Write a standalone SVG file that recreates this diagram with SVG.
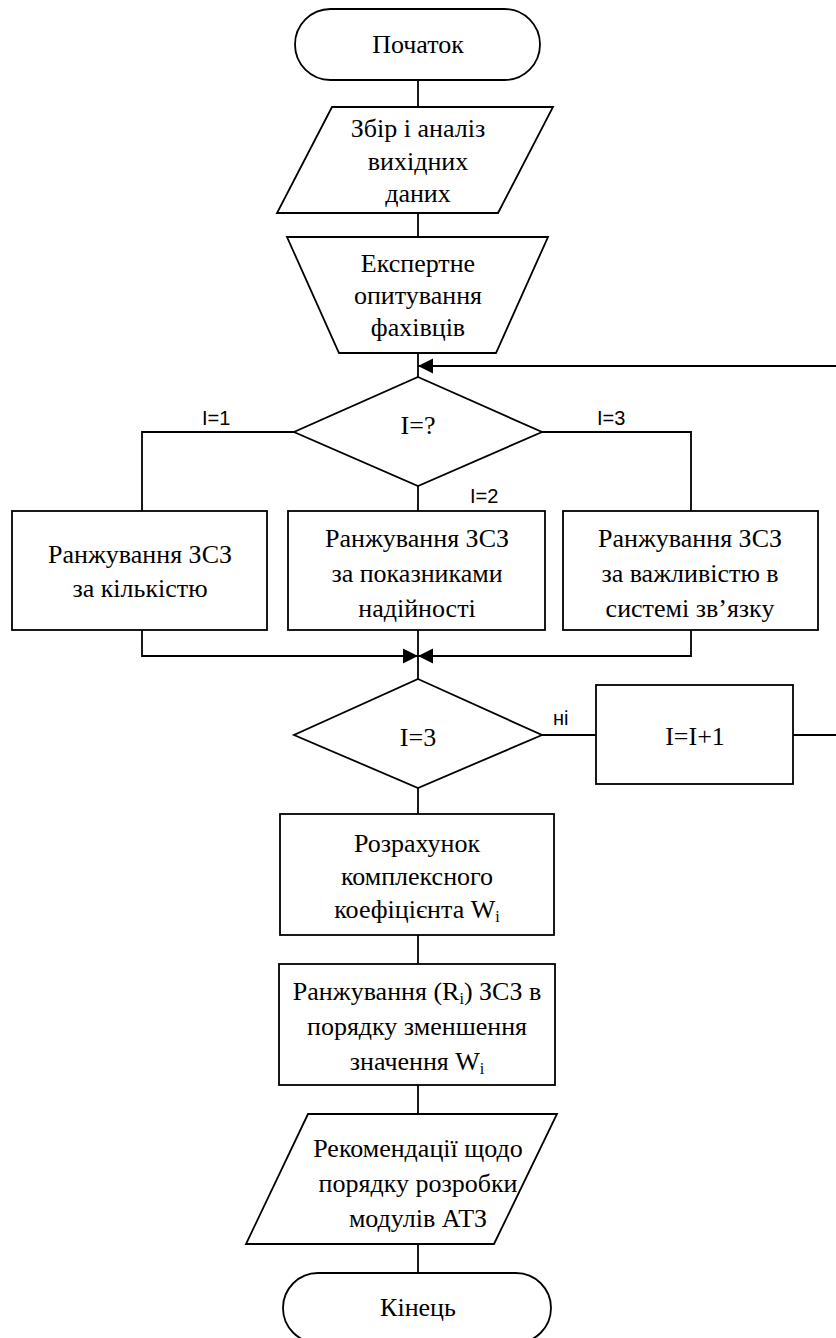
<svg xmlns="http://www.w3.org/2000/svg" width="836" height="1338" viewBox="0 0 836 1338" font-family="Liberation Serif, Times New Roman, serif">
<style>
.s{fill:#fff;stroke:#000;stroke-width:1.8}
.c{fill:none;stroke:#000;stroke-width:1.8}
.t{font-family:'Liberation Serif',serif;font-size:26px;fill:#000;text-anchor:middle}
.l{font-family:'Liberation Sans',sans-serif;font-size:20px;fill:#000}
.sub{font-size:16px}
</style>
<defs>
<marker id="ah" markerWidth="16" markerHeight="16" viewBox="0 0 16 16" refX="15" refY="8" orient="auto" markerUnits="userSpaceOnUse">
<path d="M0,0.5 L15,8 L0,15.5 Z" fill="#000"/>
</marker>
</defs>
<rect width="836" height="1338" fill="#fff"/>
<g id="connectors">
<line class="c" x1="418" y1="80" x2="418" y2="107"/>
<line class="c" x1="418" y1="213" x2="418" y2="237"/>
<line class="c" x1="418" y1="353" x2="418" y2="377"/>
<path class="c" d="M294,432 H142 V511"/>
<path class="c" d="M542,432 H691 V511"/>
<line class="c" x1="418" y1="486" x2="418" y2="511"/>
<path class="c" d="M142,630 V656 H418" marker-end="url(#ah)"/>
<path class="c" d="M691,630 V656 H418" marker-end="url(#ah)"/>
<line class="c" x1="418" y1="630" x2="418" y2="679"/>
<line class="c" x1="542" y1="735" x2="596" y2="735"/>
<path class="c" d="M793,735 H845 V366 H418" marker-end="url(#ah)"/>
<line class="c" x1="418" y1="788" x2="418" y2="814"/>
<line class="c" x1="418" y1="935" x2="418" y2="964"/>
<line class="c" x1="418" y1="1085" x2="418" y2="1114"/>
<line class="c" x1="418" y1="1244" x2="418" y2="1273"/>
<g font-family="Liberation Sans, Arial, sans-serif" font-size="20">
<text class="l" x="202" y="425">I=1</text>
<text class="l" x="597" y="425">I=3</text>
<text class="l" x="470" y="503">I=2</text>
<text class="l" x="553" y="725">ні</text>
</g>
</g>
<g font-family="Liberation Serif, Times New Roman, serif" font-size="26">
<g id="start">
<rect class="s" x="295" y="9" width="245" height="71" rx="35.5" ry="35.5"/>
<text class="t" x="418" y="53">Початок</text>
</g>
<g id="input">
<polygon class="s" points="332,107 553,107 498,213 277,213"/>
<text class="t" x="418" y="137">Збір і аналіз</text>
<text class="t" x="418" y="170">вихідних</text>
<text class="t" x="418" y="202">даних</text>
</g>
<g id="survey">
<polygon class="s" points="287,237 548,237 496,353 339,353"/>
<text class="t" x="418" y="272">Експертне</text>
<text class="t" x="418" y="304">опитування</text>
<text class="t" x="418" y="336">фахівців</text>
</g>
<g id="decision1">
<polygon class="s" points="418,377 542,432 418,486 294,432"/>
<text class="t" x="418" y="434">I=?</text>
</g>
<g id="rank1">
<rect class="s" x="12" y="511" width="255" height="119"/>
<text class="t" x="140" y="563">Ранжування ЗСЗ</text>
<text class="t" x="140" y="597">за кількістю</text>
</g>
<g id="rank2">
<rect class="s" x="288" y="511" width="257" height="119"/>
<text class="t" x="417" y="547">Ранжування ЗСЗ</text>
<text class="t" x="417" y="582">за показниками</text>
<text class="t" x="417" y="617">надійності</text>
</g>
<g id="rank3">
<rect class="s" x="563" y="511" width="255" height="119"/>
<text class="t" x="690" y="547">Ранжування ЗСЗ</text>
<text class="t" x="690" y="582">за важливістю в</text>
<text class="t" x="690" y="617">системі зв’язку</text>
</g>
<g id="decision2">
<polygon class="s" points="418,679 542,735 418,788 294,735"/>
<text class="t" x="418" y="746">I=3</text>
</g>
<g id="increment">
<rect class="s" x="596" y="685" width="197" height="99"/>
<text class="t" x="695" y="745">I=I+1</text>
</g>
<g id="calc">
<rect class="s" x="280" y="814" width="274" height="121"/>
<text class="t" x="417" y="852">Розрахунок</text>
<text class="t" x="417" y="885">комплексного</text>
<text class="t" x="417" y="918">коефіцієнта W<tspan class="sub" font-size="16" dy="4">i</tspan></text>
</g>
<g id="rankR">
<rect class="s" x="279" y="964" width="276" height="121"/>
<text class="t" x="417" y="1000">Ранжування (R<tspan class="sub" font-size="16" dy="4">i</tspan><tspan dy="-4">) ЗСЗ в</tspan></text>
<text class="t" x="417" y="1035">порядку зменшення</text>
<text class="t" x="417" y="1070">значення W<tspan class="sub" font-size="16" dy="4">i</tspan></text>
</g>
<g id="output">
<polygon class="s" points="308,1114 557,1114 494,1244 246,1244"/>
<text class="t" x="418" y="1157">Рекомендації щодо</text>
<text class="t" x="418" y="1192">порядку розробки</text>
<text class="t" x="418" y="1227">модулів АТЗ</text>
</g>
<g id="end">
<rect class="s" x="283" y="1273" width="268" height="70" rx="35" ry="35"/>
<text class="t" x="418" y="1316">Кінець</text>
</g>
</g>
</svg>
